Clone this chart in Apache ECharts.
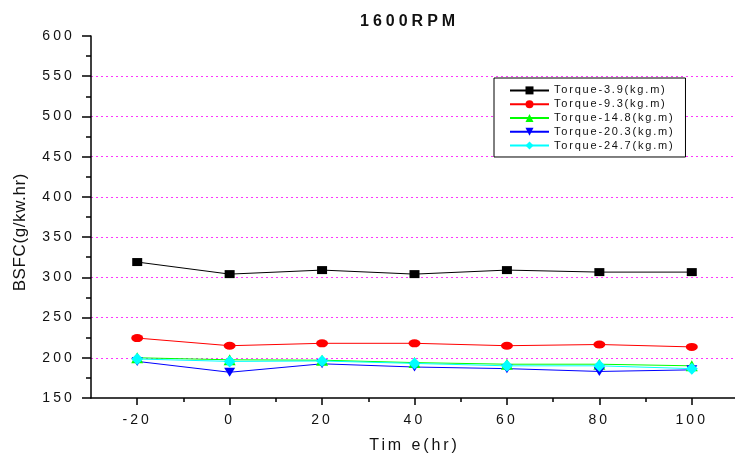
<!DOCTYPE html>
<html>
<head>
<meta charset="utf-8">
<script src="https://cdn.jsdelivr.net/npm/echarts@6/dist/echarts.min.js"></script>
<style>html,body{margin:0;padding:0;background:#fff;}#c{width:735px;height:455px;}</style>
</head>
<body>
<div id="c"></div>
<script>
var times = [-20, 0, 20, 40, 60, 80, 100];
var xMajorTicks = [-20, 0, 20, 40, 60, 80, 100];
var xMinorTicks = [-10, 10, 30, 50, 70, 90];
var torque39 = [319, 304, 309, 304, 309, 306.5, 306.5];
var torque93 = [224.5, 215, 218, 218, 215, 216.5, 213.5];
var torque148 = [200, 197.5, 197, 194, 192, 192, 190];
var torque203 = [195.5, 182, 192.5, 188.5, 186.5, 183, 185];
var torque247 = [198.5, 195.5, 196, 193, 190, 190, 186.5];
var seriesNames = ['Torque-3.9(kg.m)', 'Torque-9.3(kg.m)', 'Torque-14.8(kg.m)', 'Torque-20.3(kg.m)', 'Torque-24.7(kg.m)'];

// letter spacing emulation (reference text is widely spaced)
(function () {
  var P = CanvasRenderingContext2D.prototype;
  if (!('letterSpacing' in P)) return;
  function ls(ctx) {
    var f = ctx.font || '';
    var m = f.match(/(\d+(?:\.\d+)?)px/);
    var sz = m ? parseFloat(m[1]) : 12;
    var bold = /bold|700/.test(f);
    var v = 0;
    if (bold) v = 4;
    else if (sz === 14) v = 3.1;
    else if (sz === 16) v = 2.9;
    else if (sz === 17) v = 0.6;
    else if (sz === 11) v = 1.8;
    ctx.letterSpacing = v + 'px';
  }
  var oF = P.fillText, oS = P.strokeText, oM = P.measureText;
  P.fillText = function () { ls(this); return oF.apply(this, arguments); };
  P.strokeText = function () { ls(this); return oS.apply(this, arguments); };
  P.measureText = function () { ls(this); return oM.apply(this, arguments); };
})();

function pairs(vals) { return times.map(function (t, i) { return [t, vals[i]]; }); }

var font = 'Liberation Sans, Arial, sans-serif';
var chart = echarts.init(document.getElementById('c'), null, { renderer: 'canvas' });

function mk(name, vals, color, symbol, size, rotate) {
  return {
    name: name, type: 'line', data: pairs(vals), xAxisIndex: 0,
    symbol: symbol, symbolSize: size, symbolRotate: rotate || 0,
    showAllSymbol: true,
    lineStyle: { color: color, width: 1 },
    itemStyle: { color: color },
    animation: false, z: 3
  };
}

chart.setOption({
  animation: false,
  backgroundColor: '#fff',
  title: {
    text: '1600RPM', left: 355, top: 7,
    textStyle: { fontFamily: font, fontSize: 16, fontWeight: 'bold', color: '#111' }
  },
  grid: { left: 91, top: 36, right: -3, bottom: 57, outerBoundsMode: 'none', containLabel: false },
  legend: {
    orient: 'vertical', left: 494, top: 78,
    padding: [6, 11, 5, 15],
    borderColor: '#000', borderWidth: 1,
    backgroundColor: '#fff',
    itemWidth: 39, itemHeight: 10, itemGap: 1,
    textStyle: { fontFamily: font, fontSize: 11, lineHeight: 12, color: '#111' },
    data: seriesNames
  },
  xAxis: [{
    type: 'value', min: -30, max: 110, position: 'bottom',
    name: 'Tim e(hr)', nameLocation: 'middle', nameGap: 38,
    nameTextStyle: { fontFamily: font, fontSize: 16, color: '#111' },
    axisLine: { show: true, onZero: false, lineStyle: { color: '#000', width: 1.5 } },
    axisTick: { show: true, inside: false, length: 7, customValues: xMajorTicks, lineStyle: { color: '#000', width: 1.5 } },
    axisLabel: { customValues: xMajorTicks, margin: 14, fontFamily: font, fontSize: 14, color: '#111' },
    splitLine: { show: false }
  }, {
    type: 'value', min: -30, max: 110, position: 'bottom',
    axisLine: { show: false },
    axisTick: { show: true, inside: false, length: 4, customValues: xMinorTicks, lineStyle: { color: '#000', width: 1.5 } },
    axisLabel: { show: false },
    splitLine: { show: false }
  }],
  yAxis: {
    type: 'value', min: 150, max: 600, interval: 50,
    axisLine: { show: true, onZero: false, lineStyle: { color: '#000', width: 1.5 } },
    axisTick: { show: true, inside: false, length: 9, lineStyle: { color: '#000', width: 1.5 } },
    minorTick: { show: true, splitNumber: 2, length: 5, lineStyle: { color: '#000', width: 1.5 } },
    axisLabel: { margin: 16, fontFamily: font, fontSize: 14, color: '#111' },
    splitLine: { show: true, showMinLine: false, showMaxLine: false, lineStyle: { color: '#ff33ff', type: [2, 3], width: 1 } }
  },
  graphic: [{
    type: 'text', left: 12, top: 173, rotation: Math.PI / 2,
    style: { text: 'BSFC(g/kw.hr)', fontFamily: font, fontSize: 17, fill: '#111' }
  }],
  series: [
    mk(seriesNames[0], torque39, '#000000', 'rect', [10, 8]),
    mk(seriesNames[1], torque93, '#ff0000', 'circle', [12, 8]),
    mk(seriesNames[2], torque148, '#00ff00', 'triangle', [12, 11]),
    mk(seriesNames[3], torque203, '#0000ff', 'triangle', [11, 9], 180),
    mk(seriesNames[4], torque247, '#00ffff', 'diamond', [12, 12])
  ]
});
</script>
</body>
</html>
